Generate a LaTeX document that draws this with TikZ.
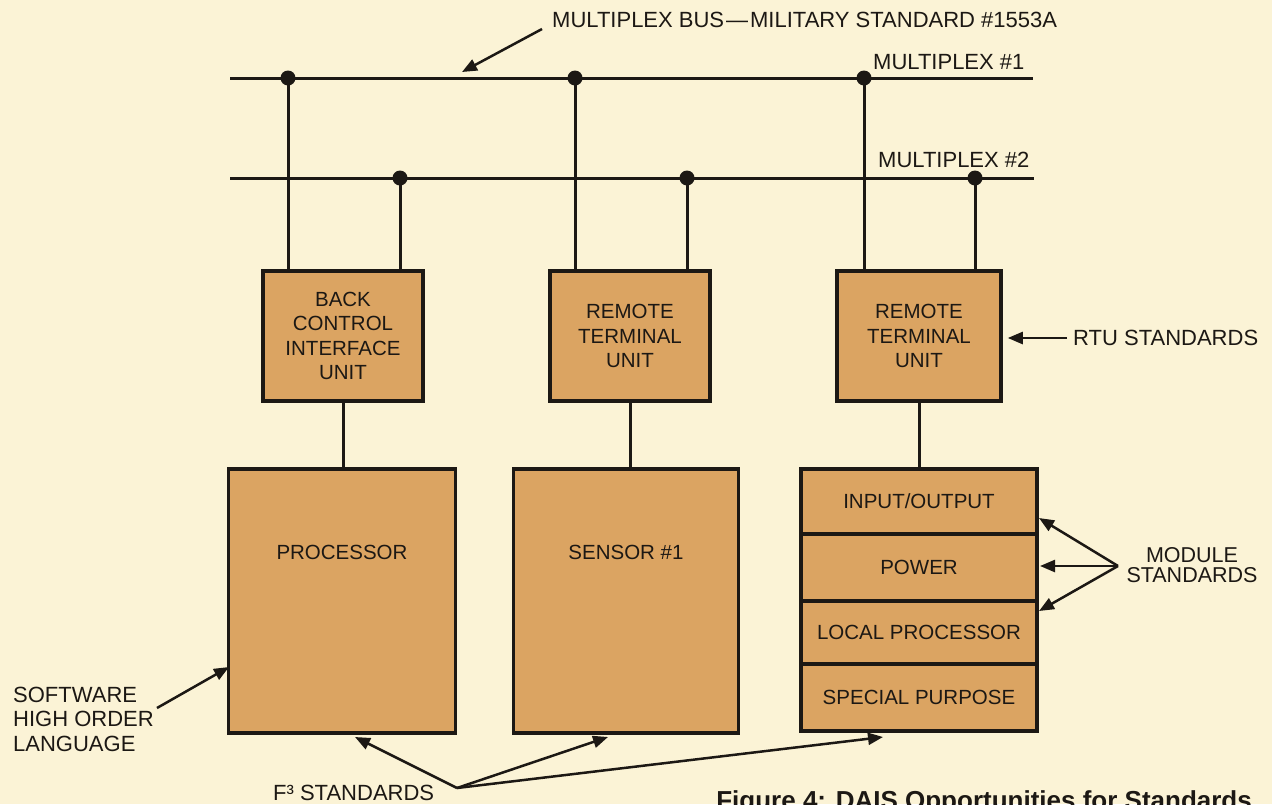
\documentclass[tikz,border=0pt]{standalone}
\usepackage{fontspec}
\setmainfont{Liberation Sans}
\usetikzlibrary{arrows.meta}
\definecolor{bgcol}{RGB}{251,243,214}
\definecolor{boxcol}{RGB}{219,164,98}
\definecolor{ink}{RGB}{28,24,20}
\begin{document}
\begin{tikzpicture}[x=1pt,y=-1pt,
  box/.style={draw=ink, line width=3.5pt, fill=boxcol, inner sep=0pt, align=center, text=ink,
              font=\fontsize{20.5}{24.5}\selectfont},
  wire/.style={draw=ink, line width=3pt},
  busdot/.style={circle, fill=ink, inner sep=0pt, minimum size=15pt},
  lbl/.style={text=ink, inner sep=0pt, font=\fontsize{22}{24.5}\selectfont},
  txt/.style={text=ink, inner sep=0pt, font=\fontsize{20.5}{24}\selectfont},
  arr/.style={draw=ink, line width=2.5pt, -{Triangle[length=15pt,width=12pt]}}
]
\fill[bgcol] (0,0) rectangle (1272,804);
\useasboundingbox (0,0) rectangle (1272,804);
\clip (0,0) rectangle (1272,804);

% buses
\coordinate (m1w) at (230,78);  \coordinate (m1e) at (1033,78);
\coordinate (m2w) at (230,178); \coordinate (m2e) at (1034,178);
\draw[wire] (m1w) -- (m1e);
\draw[wire] (m2w) -- (m2e);
\node[lbl, anchor=west] (mx1) at (873,62) {MULTIPLEX \#1};
\node[lbl, anchor=west] (mx2) at (878,160) {MULTIPLEX \#2};
\node[lbl, anchor=west] (busl) at (552,20) {MULTIPLEX BUS\kern2pt—\kern2pt MILITARY STANDARD \#1553A};
\coordinate (busl-t) at (542,29);
\coordinate (busl-h) at (462,72);
\draw[arr] (busl-t) -- (busl-h);

% upper boxes
\node[box, minimum width=160pt, minimum height=130pt] (bciu) at (343,336) {BACK\\CONTROL\\INTERFACE\\UNIT};
\node[box, minimum width=160pt, minimum height=130pt] (rtua) at (630,336) {REMOTE\\TERMINAL\\UNIT};
\node[box, minimum width=164pt, minimum height=130pt] (rtub) at (919,336) {REMOTE\\TERMINAL\\UNIT};

% bus dots and drops
\node[busdot] (d1a) at (288,78) {};
\node[busdot] (d2a) at (400,178) {};
\node[busdot] (d1b) at (575,78) {};
\node[busdot] (d2b) at (687,178) {};
\node[busdot] (d1c) at (864,78) {};
\node[busdot] (d2c) at (975,178) {};
\draw[wire] (d1a.center) -- (d1a |- bciu.north);
\draw[wire] (d2a.center) -- (d2a |- bciu.north);
\draw[wire] (d1b.center) -- (d1b |- rtua.north);
\draw[wire] (d2b.center) -- (d2b |- rtua.north);
\draw[wire] (d1c.center) -- (d1c |- rtub.north);
\draw[wire] (d2c.center) -- (d2c |- rtub.north);

% lower boxes
\node[box, minimum width=227pt, minimum height=264pt] (proc) at (342,601) {};
\node[txt] (proct) at (342,552) {PROCESSOR};
\node[box, minimum width=225pt, minimum height=264pt] (sens) at (626,601) {};
\node[txt] (senst) at (626,552) {SENSOR \#1};
\node[box, minimum width=236pt, minimum height=65pt] (io) at (919,501.5) {INPUT/OUTPUT};
\node[box, minimum width=236pt, minimum height=67pt] (pwr) at (919,567.5) {POWER};
\node[box, minimum width=236pt, minimum height=63pt] (lp) at (919,632.5) {LOCAL PROCESSOR};
\node[box, minimum width=236pt, minimum height=67pt] (sp) at (919,697.5) {SPECIAL PURPOSE};

\draw[wire] (bciu.south) -- (bciu.south |- proc.north);
\draw[wire] (rtua.south) -- (rtua.south |- sens.north);
\draw[wire] (rtub.south) -- (rtub.south |- io.north);

% RTU standards
\node[lbl, anchor=west] (rtus) at (1073,338) {RTU STANDARDS};
\draw[arr] ([xshift=-6pt]rtus.west) -- ([xshift=5pt]rtub.east |- rtus.west);

% module standards
\node[lbl, align=center, font=\fontsize{21.5}{20.5}\selectfont] (mods) at (1192,565) {MODULE\\STANDARDS};
\coordinate (modsrc) at (1118,566);
\coordinate (modt1) at (1039,518);
\coordinate (modt2) at (1040,566);
\coordinate (modt3) at (1039,611);
\draw[arr] (modsrc) -- (modt1);
\draw[arr] (modsrc) -- (modt2);
\draw[arr] (modsrc) -- (modt3);

% software
\node[lbl, anchor=west, align=left] (sw) at (13,719) {SOFTWARE\\HIGH ORDER\\LANGUAGE};
\coordinate (swt) at (157,708);
\coordinate (swh) at (229,667);
\draw[arr] (swt) -- (swh);

% F3 standards
\node[lbl, anchor=west] (f3) at (273,793) {F³ STANDARDS};
\coordinate (f3src) at (457,788);
\coordinate (f3a) at (355,737);
\coordinate (f3b) at (608,737);
\coordinate (f3c) at (883,737);
\draw[arr] (f3src) -- (f3a);
\draw[arr] (f3src) -- (f3b);
\draw[arr] (f3src) -- (f3c);

% caption (cut off at the bottom edge)
\node[anchor=base east, inner sep=0pt, text=ink, font=\bfseries\fontsize{26}{30}\selectfont] (cap) at (1252,809) {Figure 4: DAIS Opportunities for Standards};
\end{tikzpicture}
\end{document}
